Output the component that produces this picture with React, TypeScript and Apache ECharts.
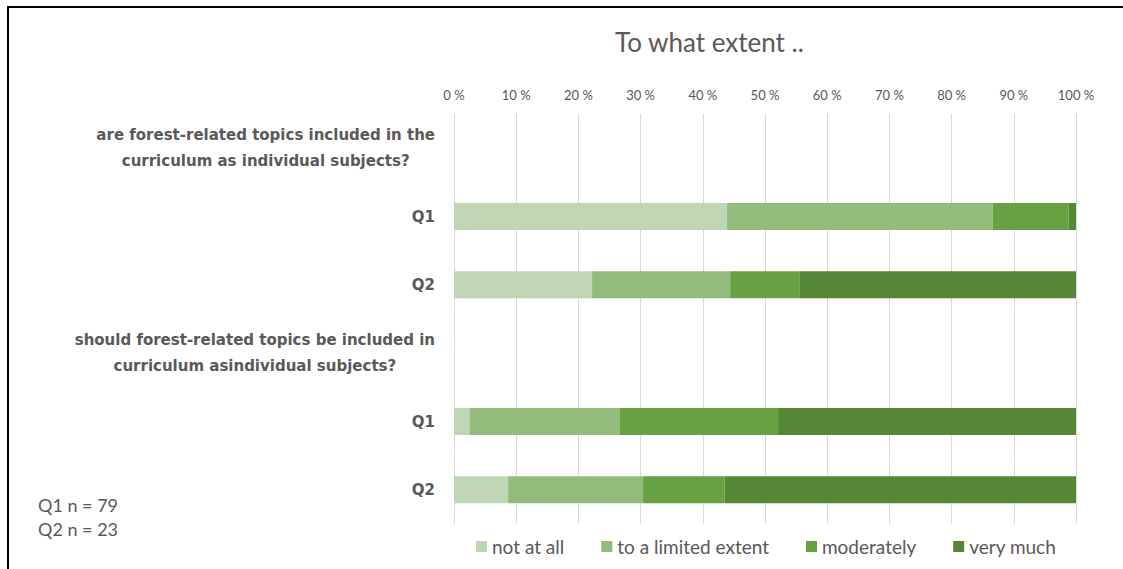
import React, { useEffect, useRef } from "react";
import * as echarts from "echarts";

const categories = ["h1", "Q1a", "Q2a", "h2", "Q1b", "Q2b"];
const categoryLabels: Record<string, string> = {
  h1: "are forest-related topics included in the\ncurriculum as individual subjects?",
  Q1a: "Q1",
  Q2a: "Q2",
  h2: "should forest-related topics be included in\ncurriculum asindividual subjects?",
  Q1b: "Q1",
  Q2b: "Q2",
};
const seriesNames = ["not at all", "to a limited extent", "moderately", "very much"];
const notAtAll: (number | string)[] = ["-", 43.9, 22.2, "-", 2.5, 8.7];
const limited: (number | string)[] = ["-", 42.7, 22.2, "-", 24.1, 21.7];
const moderately: (number | string)[] = ["-", 12.2, 11.2, "-", 25.5, 13.1];
const veryMuch: (number | string)[] = ["-", 1.2, 44.4, "-", 47.9, 56.5];
const seriesColors = ["#BED6B3", "#93BB7C", "#68A142", "#558737"];
const xTicks = { min: 0, max: 100, interval: 10 };
const sampleNotes = ["Q1 n = 79", "Q2 n = 23"];

const FONT = "Lato, 'Open Sans', sans-serif";
const BOLD_FONT = "'DejaVu Sans', sans-serif";
const GRAY = "#595959";

export default function App() {
  const ref = useRef<HTMLDivElement>(null);
  useEffect(() => {
    if (!ref.current) return;
    const chart = echarts.init(ref.current, undefined, { renderer: "svg" });
    const values = [notAtAll, limited, moderately, veryMuch];
    chart.setOption({
      animation: false,
      backgroundColor: "transparent",
      textStyle: { fontFamily: FONT },
      title: {
        text: "To what extent ..",
        left: 610,
        top: 24,
        textStyle: { color: GRAY, fontSize: 26, fontWeight: "normal", fontFamily: FONT },
      },
      legend: {
        data: seriesNames,
        left: 471,
        top: 532,
        icon: "rect",
        itemWidth: 11,
        itemHeight: 11,
        itemGap: 37,
        textStyle: { color: GRAY, fontSize: 19, fontFamily: FONT },
      },
      grid: { left: 454, right: 47, top: 114, bottom: 45, containLabel: false },
      xAxis: {
        type: "value",
        position: "top",
        min: xTicks.min,
        max: xTicks.max,
        interval: xTicks.interval,
        axisLine: { show: false },
        axisTick: { show: false },
        splitLine: { lineStyle: { color: "#D9D9D9", width: 1 } },
        axisLabel: {
          formatter: "{value} %",
          color: GRAY,
          fontSize: 13,
          margin: 13,
          fontFamily: FONT,
        },
      },
      yAxis: {
        type: "category",
        inverse: true,
        data: categories,
        axisLine: { show: false },
        axisTick: { show: false },
        axisLabel: {
          margin: 19,
          color: GRAY,
          fontFamily: BOLD_FONT,
          formatter: (v: string) => {
            const t = categoryLabels[v];
            if (t.indexOf("\n") >= 0) {
              return t
                .split("\n")
                .map((l) => "{h|" + l + "}")
                .join("\n");
            }
            return "{q|" + t + "}";
          },
          rich: {
            h: {
              align: "center",
              fontWeight: "bold",
              fontSize: 15,
              color: GRAY,
              lineHeight: 26,
              fontFamily: BOLD_FONT,
            },
            q: { fontWeight: "bold", fontSize: 15, color: GRAY, fontFamily: BOLD_FONT },
          },
        },
      },
      series: seriesNames.map((name, i) => ({
        name,
        type: "bar",
        stack: "total",
        barWidth: 27,
        data: values[i],
        itemStyle: { color: seriesColors[i] },
        emphasis: { disabled: true },
      })),
      graphic: sampleNotes.map((t, i) => ({
        type: "text",
        left: 38,
        top: 496 + i * 24,
        style: { text: t, fill: GRAY, fontSize: 18, fontFamily: FONT },
      })),
    });
    return () => chart.dispose();
  }, []);
  return (
    <div
      style={{
        position: "absolute",
        left: 0,
        top: 0,
        width: 1123,
        height: 569,
        overflow: "hidden",
        background: "#fff",
      }}
    >
      <div
        style={{
          position: "absolute",
          left: 7,
          top: 6,
          width: 1130,
          height: 580,
          borderTop: "2px solid #000",
          borderLeft: "2px solid #000",
        }}
      />
      <div
        ref={ref}
        style={{ position: "absolute", left: 0, top: 0, width: 1123, height: 569 }}
      />
    </div>
  );
}
